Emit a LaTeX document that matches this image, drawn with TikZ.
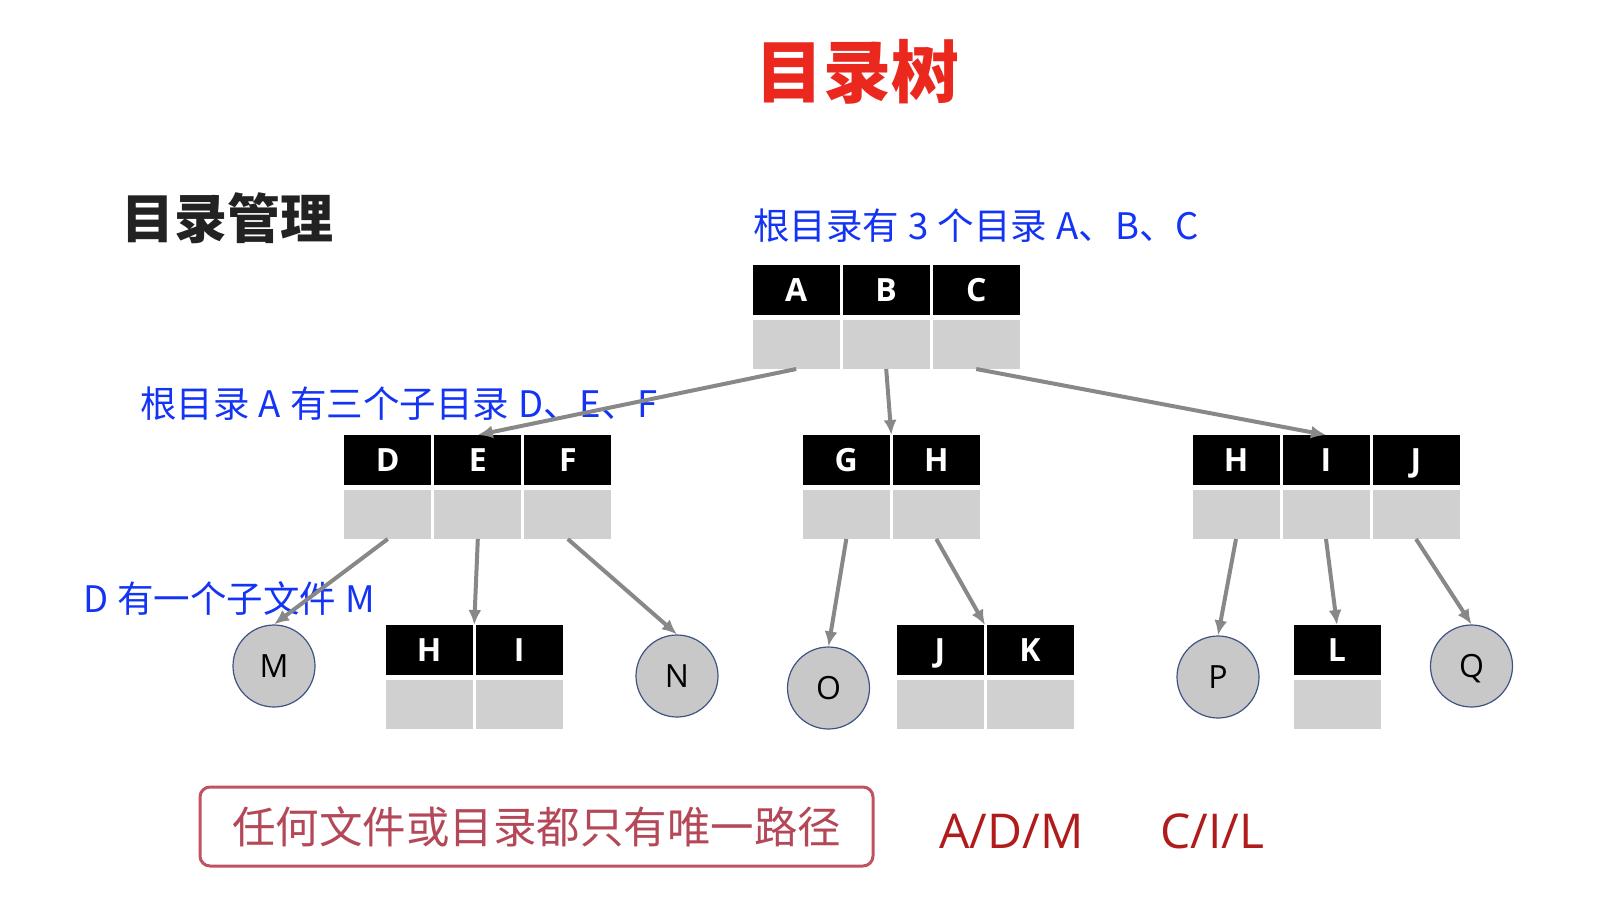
\documentclass[tikz,border=0pt]{standalone}
\usepackage{fontspec}
\setmainfont{Open Sans}
\newfontfamily\cjk{Noto Sans CJK SC}
\usetikzlibrary{positioning,arrows.meta,calc}
\definecolor{titlered}{RGB}{234,40,30}
\definecolor{titleblack}{RGB}{34,34,34}
\definecolor{noteblue}{RGB}{20,52,245}
\definecolor{slotgray}{RGB}{208,208,208}
\definecolor{linkgray}{RGB}{136,136,136}
\definecolor{leafedge}{RGB}{62,84,132}
\definecolor{leafgray}{RGB}{200,200,200}
\definecolor{rulered}{RGB}{192,82,98}
\definecolor{ruletext}{RGB}{180,72,88}
\definecolor{pathred}{RGB}{176,28,28}
\newcommand\widespace{\spaceskip 0.25em\relax}

\begin{document}
\begin{tikzpicture}[x=1pt,y=1pt]
\tikzstyle{head}=[fill=black,text=white,font=\bfseries\fontsize{32}{36}\selectfont,text height=23pt,text depth=0pt,minimum width=87pt,minimum height=50pt,inner sep=0pt,outer sep=0pt]
\tikzstyle{slot}=[fill=slotgray,minimum width=87pt,minimum height=49pt,inner sep=0pt,outer sep=0pt]
\tikzstyle{leaf}=[circle,draw=leafedge,line width=1.2pt,fill=leafgray,minimum size=82pt,inner sep=0pt,font=\fontsize{32}{36}\selectfont,text height=23pt,text depth=0pt]
\tikzstyle{note}=[text=noteblue,anchor=west,inner sep=0pt,font=\cjk\fontsize{36.5}{40}\selectfont\widespace]
\tikzstyle{path}=[text=pathred,font=\fontsize{48}{52}\selectfont]
\tikzstyle{link}=[->,>={Latex[length=15pt,width=13pt]},draw=linkgray,line width=4pt]
\useasboundingbox (0,0) rectangle (1616,-908);

\node[font=\cjk\bfseries\fontsize{68}{72}\selectfont,text=titlered] (title) at (857.5,-72) {目录树};
\node[font=\cjk\bfseries\fontsize{53}{56}\selectfont,text=titleblack,anchor=west,inner sep=0pt] (topic) at (121,-218) {目录管理};

% root directory
\node[head] (hA) at (796.2,-290) {A};
\node[head,right=3pt of hA] (hB) {B};
\node[head,right=3pt of hB] (hC) {C};
\node[slot,below=5pt of hA] (sA) {};
\node[slot,below=5pt of hB] (sB) {};
\node[slot,below=5pt of hC] (sC) {};

% second level
\node[head] (hD) at (387.8,-460) {D};
\node[head,right=3pt of hD] (hE) {E};
\node[head,right=3pt of hE] (hF) {F};
\node[slot,below=5pt of hD] (sD) {};
\node[slot,below=5pt of hE] (sE) {};
\node[slot,below=5pt of hF] (sF) {};

\node[head] (hG) at (846.3,-460) {G};
\node[head,right=3pt of hG] (hH) {H};
\node[slot,below=5pt of hG] (sG) {};
\node[slot,below=5pt of hH] (sH) {};

\node[head] (hHc) at (1236,-460) {H};
\node[head,right=3pt of hHc] (hIc) {I};
\node[head,right=3pt of hIc] (hJc) {J};
\node[slot,below=5pt of hHc] (sHc) {};
\node[slot,below=5pt of hIc] (sIc) {};
\node[slot,below=5pt of hJc] (sJc) {};

% third level
\node[head] (hHe) at (429.2,-650) {H};
\node[head,right=3pt of hHe] (hIe) {I};
\node[slot,below=5pt of hHe] (sHe) {};
\node[slot,below=5pt of hIe] (sIe) {};

\node[head] (hJ) at (940,-650) {J};
\node[head,right=3pt of hJ] (hK) {K};
\node[slot,below=5pt of hJ] (sJ) {};
\node[slot,below=5pt of hK] (sK) {};

\node[head] (hL) at (1337,-650) {L};
\node[slot,below=5pt of hL] (sL) {};

\node[leaf] (M) at (274,-666) {M};
\node[leaf] (N) at (677,-676) {N};
\node[leaf] (O) at (828.5,-688) {O};
\node[leaf] (P) at (1218,-677) {P};
\node[leaf] (Q) at (1471.5,-666) {Q};

\coordinate (gh) at ($(hG.north east)!.5!(hH.north west)$);
\coordinate (hi) at ($(hHe.north east)!.5!(hIe.north west)$);
\coordinate (jk) at ($(hJ.north east)!.5!(hK.north west)$);

\node[note] (noteroot) at (753,-226) {根目录有 3 个目录 A、B、C};
\node[note] (notea) at (140,-404) {根目录 A 有三个子目录 D、E、F};
\node[note] (noted) at (83,-598) {D 有一个子文件 M};

\draw[link] (sA.south) -- (hE.north);
\draw[link] (sB.south) -- (gh);
\draw[link] (sC.south) -- (hIc.north);
\draw[link] (sD.south) -- (M.north);
\draw[link] (sE.south) -- (hi);
\draw[link] (sF.south) -- (N.north);
\draw[link] (sG.south) -- (O.north);
\draw[link] (sH.south) -- (jk);
\draw[link] (sHc.south) -- (P.north);
\draw[link] (sIc.south) -- (hL.north);
\draw[link] (sJc.south) -- (Q.north);

\node[draw=rulered,line width=3pt,rounded corners=10pt,minimum width=673pt,minimum height=79pt,text=ruletext,font=\cjk\fontsize{43.5}{46}\selectfont] (rule) at (536.5,-826.5) {任何文件或目录都只有唯一路径};
\node[path] (pathm) at (1011.5,-831) {A/D/M};
\node[path] (pathl) at (1212,-831) {C/I/L};
\end{tikzpicture}
\end{document}
